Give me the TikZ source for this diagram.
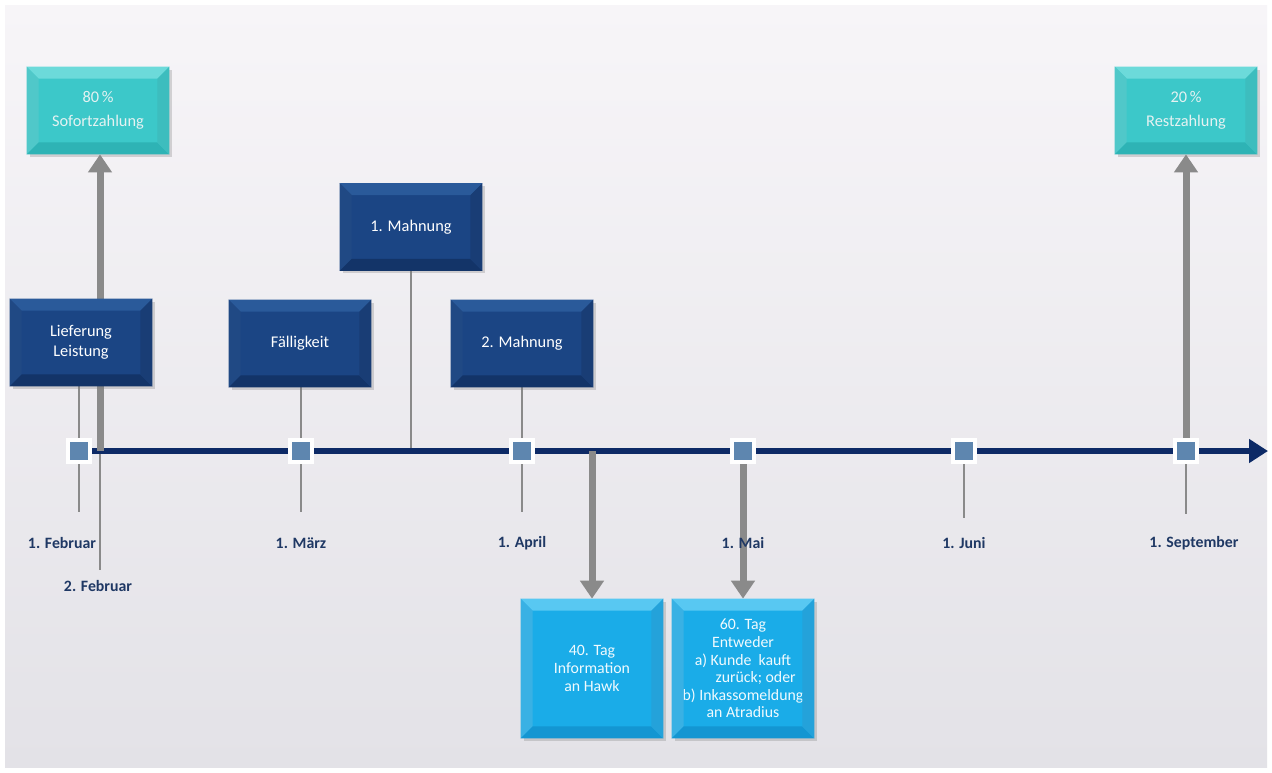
\documentclass[tikz,border=0pt]{standalone}
\usepackage{fontspec}
\setmainfont{Carlito}
\usetikzlibrary{arrows.meta,shadows}
\definecolor{tlnavy}{HTML}{0D2A66}
\definecolor{navybox}{HTML}{1B4584}
\definecolor{navylight}{HTML}{2A5A9A}
\definecolor{navydark}{HTML}{133468}
\definecolor{tealbox}{HTML}{3CC8C9}
\definecolor{teallight}{HTML}{6CDADA}
\definecolor{tealdark}{HTML}{2EB3B5}
\definecolor{skybox}{HTML}{1AACE8}
\definecolor{skylight}{HTML}{58C8F2}
\definecolor{skydark}{HTML}{1396D2}
\definecolor{markfill}{HTML}{5E86AF}
\definecolor{labnavy}{HTML}{1F3864}
\definecolor{gline}{HTML}{8A8A8A}
\definecolor{bgtop}{HTML}{F7F5F8}
\definecolor{bgbot}{HTML}{E3E2E7}
\pgfdeclarelayer{bg}
\pgfdeclarelayer{lines}
\pgfsetlayers{bg,lines,main}
\newcommand\bevelbox[3]{%
  \fill[#2] (#1.north west) -- (#1.north east) -- ([shift={(-0.24cm,-0.24cm)}]#1.north east) -- ([shift={(0.24cm,-0.24cm)}]#1.north west) -- cycle;
  \fill[#2!55!#3] (#1.north west) -- ([shift={(0.24cm,-0.24cm)}]#1.north west) -- ([shift={(0.24cm,0.24cm)}]#1.south west) -- (#1.south west) -- cycle;
  \fill[#3] (#1.south west) -- (#1.south east) -- ([shift={(-0.24cm,0.24cm)}]#1.south east) -- ([shift={(0.24cm,0.24cm)}]#1.south west) -- cycle;
  \fill[#3!75!#2] (#1.north east) -- ([shift={(-0.24cm,-0.24cm)}]#1.north east) -- ([shift={(-0.24cm,0.24cm)}]#1.south east) -- (#1.south east) -- cycle;
}
\begin{document}
\begin{tikzpicture}[x=0.02cm,y=-0.02cm,
  box/.style={rectangle, minimum width=2.84cm, minimum height=1.74cm, inner sep=0pt, align=center,
     drop shadow={opacity=0.3, shadow xshift=1.5pt, shadow yshift=-1.5pt}},
  navyb/.style={box, fill=navybox, text=white, font=\fontsize{9.3}{11.4}\selectfont},
  tealb/.style={box, fill=tealbox, text=white!90!teal, font=\fontsize{9.3}{13.5}\selectfont},
  skyb/.style={box, fill=skybox, minimum height=2.78cm, text=white!94!cyan},
  marker/.style={rectangle, minimum size=0.44cm, inner sep=0pt, fill=markfill, draw=white, line width=2pt},
  datelab/.style={font=\bfseries\fontsize{9}{10}\selectfont, text=labnavy},
  thin/.style={draw=gline, line width=1.3pt},
  bigarrow/.style={draw=gline, line width=0.14cm, -{Triangle[width=0.46cm,length=0.36cm]}}
]
\useasboundingbox (0,0) rectangle (1272,772);
\begin{pgfonlayer}{bg}
\fill[white] (0,0) rectangle (1272,772);
\shade[top color=bgtop, bottom color=bgbot] (5,5) rectangle (1267,767);
\end{pgfonlayer}

% markers
\node[marker] (m1) at (79,451) {};
\node[marker] (m2) at (301,451) {};
\node[marker] (m3) at (522,451) {};
\node[marker] (m4) at (743,451) {};
\node[marker] (m5) at (964,451) {};
\node[marker] (m6) at (1186,451) {};
\coordinate (tlend) at (1268,451);
\coordinate (d40) at (592,451);
\coordinate (mahn1) at (411,451);
\coordinate (feb2top) at (100,451);
\coordinate (feb2bot) at (100,570);

% boxes
\node[tealb] (sofort) at (98,110.5) {80\,\%\\Sofortzahlung};
\bevelbox{sofort}{teallight}{tealdark}
\node[tealb] (rest) at (1186,110.5) {20\,\%\\Restzahlung};
\bevelbox{rest}{teallight}{tealdark}
\node[navyb] (lief) at (81,342.5) {Lieferung\\Leistung};
\bevelbox{lief}{navylight}{navydark}
\node[navyb] (faell) at (300,343.5) {Fälligkeit};
\bevelbox{faell}{navylight}{navydark}
\node[navyb] (mahnA) at (411,227) {1. Mahnung};
\bevelbox{mahnA}{navylight}{navydark}
\node[navyb] (mahnB) at (522,343.5) {2. Mahnung};
\bevelbox{mahnB}{navylight}{navydark}
\node[skyb, font=\fontsize{9}{10.3}\selectfont] (tag40) at (592,668.5) {40. Tag\\Information\\an Hawk};
\bevelbox{tag40}{skylight}{skydark}
\node[skyb, font=\fontsize{9}{10}\selectfont] (tag60) at (743,668.5) {60. Tag\\Entweder\\a) Kunde\ \ kauft\\\hspace*{1.6em}zurück; oder\\b) Inkassomeldung\\an Atradius};
\bevelbox{tag60}{skylight}{skydark}

% labels
\node[datelab] (l1) at (62,543) {1. Februar};
\node[datelab] (l1b) at (98,586) {2. Februar};
\node[datelab] (l2) at (301,543) {1. März};
\node[datelab] (l3) at (522,543) {1. April};
\node[datelab] (l4) at (743,543) {1. Mai};
\node[datelab] (l5) at (964,543) {1. Juni};
\node[datelab] (l6) at (1194,543) {1. September};

\begin{pgfonlayer}{lines}
% thin lines
\draw[thin] (lief.south -| m1) -- (m1.center) -- (79,512);
\draw[thin] (faell.south -| m2) -- (m2.center) -- (301,512);
\draw[thin] (mahnB.south -| m3) -- (m3.center) -- (522,512);
\draw[thin] (mahnA.south) -- (mahn1);
\draw[thin] (m5.center) -- (964,518);
\draw[thin] (m6.center) -- (1186,514);
\draw[thin] (feb2top) -- (feb2bot);
% timeline
\draw[tlnavy, line width=0.12cm, -{Triangle[width=0.46cm,length=0.38cm]}] (m1.center) -- (tlend);
% thick arrows
\draw[bigarrow] (feb2top) -- (sofort.south -| feb2top);
\draw[bigarrow] (m6.center) -- (rest.south);
\draw[bigarrow] (d40) -- (tag40.north);
\draw[bigarrow] (m4.center) -- (tag60.north);
\end{pgfonlayer}
\end{tikzpicture}
\end{document}
